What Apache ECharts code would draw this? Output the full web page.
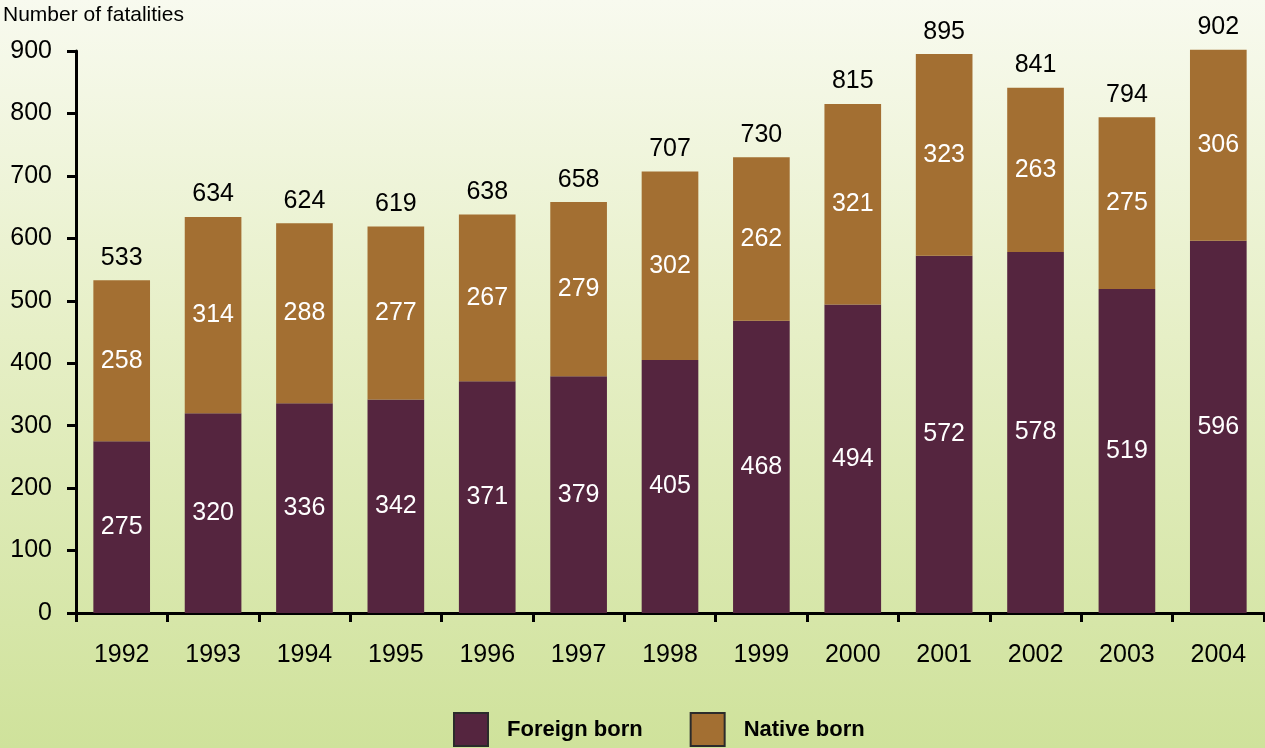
<!DOCTYPE html>
<html>
<head>
<meta charset="UTF-8">
<title>Fatalities by nativity</title>
<style>
    body{ margin:0; padding:0; }
    #main{ width:1265px; height:748px; background:linear-gradient(to bottom,#f8faef 0%,#e6efc6 45%,#cfe29b 100%); }
</style>
<script src="https://cdn.jsdelivr.net/npm/echarts@6/dist/echarts.min.js"></script>
</head>
<body>
<div id="main"></div>
<script>
var years = ['1992','1993','1994','1995','1996','1997','1998','1999','2000','2001','2002','2003','2004'];
var foreignBorn = [275, 320, 336, 342, 371, 379, 405, 468, 494, 572, 578, 519, 596];
var nativeBorn = [258, 314, 288, 277, 267, 279, 302, 262, 321, 323, 263, 275, 306];
var totals = [533, 634, 624, 619, 638, 658, 707, 730, 815, 895, 841, 794, 902];
var yTicks = [0, 100, 200, 300, 400, 500, 600, 700, 800, 900];

var font = '"Liberation Sans", Arial, sans-serif';
var chart = echarts.init(document.getElementById('main'));

var insideLabel = {
    show: true,
    position: 'inside',
    color: '#ffffff',
    fontFamily: font,
    fontSize: 25
};

chart.setOption({
    animation: false,
    title: {
        text: 'Number of fatalities',
        left: 3, top: 5,
        padding: 0,
        textStyle: { fontFamily: font, fontSize: 21, fontWeight: 'normal', color: '#000' }
    },
    grid: { left: 76, right: 1, top: 51, bottom: 135 },
    legend: {
        top: 712,
        left: 453,
        padding: 0,
        data: ['Foreign born', 'Native born'],
        itemWidth: 34,
        itemHeight: 33,
        itemGap: 47,
        icon: 'rect',
        itemStyle: { borderColor: '#2b2b2b', borderWidth: 2 },
        textStyle: { fontFamily: font, fontSize: 22, fontWeight: 'bold', color: '#000', padding: [2, 0, 0, 14] }
    },
    xAxis: {
        type: 'category',
        data: years,
        axisLine: { lineStyle: { color: '#000', width: 3 } },
        axisTick: { show: true, length: 9, lineStyle: { color: '#000', width: 3 } },
        axisLabel: { color: '#000', fontFamily: font, fontSize: 25, margin: 30 }
    },
    yAxis: {
        type: 'value',
        min: yTicks[0],
        max: yTicks[yTicks.length - 1],
        interval: 100,
        splitLine: { show: false },
        axisLine: { show: true, lineStyle: { color: '#000', width: 3 } },
        axisTick: { show: true, length: 9, lineStyle: { color: '#000', width: 3 } },
        axisLabel: { color: '#000', fontFamily: font, fontSize: 25, margin: 24 }
    },
    series: [
        {
            name: 'Foreign born',
            type: 'bar',
            stack: 'all',
            barWidth: '62%',
            clip: false,
            data: foreignBorn,
            itemStyle: { color: '#55253f' },
            label: insideLabel
        },
        {
            name: 'Native born',
            type: 'bar',
            stack: 'all',
            clip: false,
            data: nativeBorn,
            itemStyle: { color: '#a36f32' },
            label: insideLabel
        },
        {
            name: 'Total',
            type: 'bar',
            stack: 'all',
            clip: false,
            data: totals.map(function () { return 0; }),
            itemStyle: { color: 'transparent' },
            label: {
                show: true,
                position: 'top',
                distance: 10,
                color: '#000',
                fontFamily: font,
                fontSize: 25,
                formatter: function (p) { return totals[p.dataIndex]; }
            }
        }
    ]
});
</script>
</body>
</html>
